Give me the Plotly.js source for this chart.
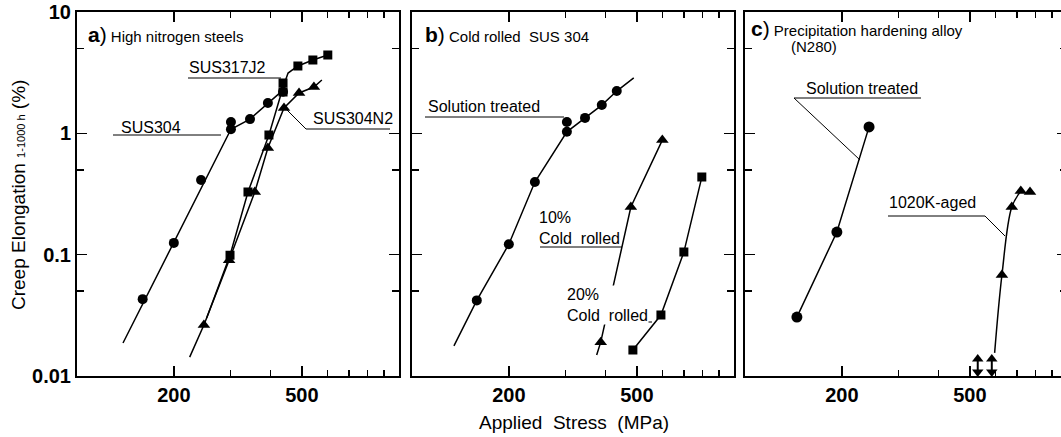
<!DOCTYPE html>
<html>
<head>
<meta charset="utf-8">
<script src="https://cdn.plot.ly/plotly-3.0.1.min.js"></script>
<style>
html,body{margin:0;padding:0;overflow:hidden;background:#fff;}
#chart{width:1068px;height:437px;}
</style>
</head>
<body>
<div id="chart"></div>
<script>
// ---------- Data (Applied stress in MPa, creep elongation in %) ----------
// Panel a) High nitrogen steels
const aStressSUS304 = [160, 200, 243, 301, 301, 345, 392, 437];
const aElongSUS304 = [0.043, 0.125, 0.412, 1.08, 1.24, 1.31, 1.78, 2.2];
const aFitStressSUS304 = [139, 301, 345, 392, 437];
const aFitElongSUS304 = [0.0187, 1.08, 1.31, 1.78, 2.27];

const aStressSUS317J2 = [299, 340, 395, 437, 437, 486, 541, 602];
const aElongSUS317J2 = [0.099, 0.328, 0.97, 2.19, 2.6, 3.59, 4.02, 4.42];
const aFitStressSUS317J2 = [253, 299, 340, 395, 437, 453, 486, 541, 602];
const aFitElongSUS317J2 = [0.03, 0.099, 0.328, 0.97, 2.4, 3.14, 3.59, 4.02, 4.42];

const aStressSUS304N2 = [248, 297, 357, 392, 440, 490, 545];
const aElongSUS304N2 = [0.0263, 0.090, 0.328, 0.757, 1.62, 2.15, 2.41];
const aFitStressSUS304N2 = [224, 248, 297, 357, 392, 440, 490, 545, 577];
const aFitElongSUS304N2 = [0.0143, 0.0263, 0.090, 0.328, 0.757, 1.62, 2.15, 2.41, 2.75];

// Panel b) Cold rolled SUS 304
const bStressSolution = [159, 200, 241, 303, 303, 345, 389, 433];
const bElongSolution = [0.042, 0.122, 0.397, 1.03, 1.24, 1.34, 1.71, 2.23];
const bFitStressSolution = [135, 159, 200, 241, 303, 345, 389, 433, 489];
const bFitElongSolution = [0.0177, 0.042, 0.122, 0.397, 1.03, 1.34, 1.71, 2.23, 2.86];

const bStressCR10 = [386, 479, 600];
const bElongCR10 = [0.019, 0.247, 0.88];
const bFitStressCR10 = [375, 386, 479, 600];
const bFitElongCR10 = [0.0149, 0.019, 0.247, 0.88];

const bStressCR20 = [486, 594, 700, 796];
const bElongCR20 = [0.0164, 0.0318, 0.105, 0.436];

// Panel c) Precipitation hardening alloy (N280)
const cStressSolution = [145, 193, 243];
const cElongSolution = [0.0306, 0.1536, 1.13];

const cStressAged = [629, 675, 720, 769];
const cElongAged = [0.068, 0.247, 0.334, 0.328];
const cFitStressAged = [597, 629, 675, 720];
const cFitElongAged = [0.0155, 0.068, 0.247, 0.334];

// Run-out (no measurable creep) markers, 1020K-aged
const cStressRunout = [529, 585];
const cRunoutUp = [0.0138, 0.0138];
const cRunoutMid = [0.0122, 0.0122];
const cRunoutDown = [0.0108, 0.0108];

// Tick labels
const xTickVals = [200, 500];
const xTickText = ['200', '500'];
const xMinorVals = [300, 400, 600, 700, 800, 900];
const yTickVals = [0.01, 0.1, 1, 10];
const yTickText = ['0.01', '0.1', '1', '10'];
const yMinorVals = [0.05, 0.5, 5];

// ---------- Layout helpers ----------
const W = 1068, H = 437;
const px = v => v / W;
const py = v => 1 - v / H;
const FONT = 'Liberation Sans, Arial, Helvetica, sans-serif';

function line(x, y, ax) {
  return {x: x, y: y, xaxis: 'x' + ax, yaxis: 'y' + ax, mode: 'lines',
          line: {color: '#000', width: 1.5}, hoverinfo: 'skip'};
}
function mk(x, y, ax, symbol, size) {
  return {x: x, y: y, xaxis: 'x' + ax, yaxis: 'y' + ax, mode: 'markers',
          marker: {color: '#000', symbol: symbol, size: size, line: {width: 0}}};
}

const traces = [
  line(aFitStressSUS304, aFitElongSUS304, ''),
  line(aFitStressSUS317J2, aFitElongSUS317J2, ''),
  line(aFitStressSUS304N2, aFitElongSUS304N2, ''),
  mk(aStressSUS304, aElongSUS304, '', 'circle', 10),
  mk(aStressSUS304N2, aElongSUS304N2, '', 'triangle-up', 11),
  mk(aStressSUS317J2, aElongSUS317J2, '', 'square', 9),

  line(bFitStressSolution, bFitElongSolution, '2'),
  line(bFitStressCR10, bFitElongCR10, '2'),
  line(bStressCR20, bElongCR20, '2'),
  mk(bStressSolution, bElongSolution, '2', 'circle', 10),
  mk(bStressCR10, bElongCR10, '2', 'triangle-up', 11),
  mk(bStressCR20, bElongCR20, '2', 'square', 9),

  line(cStressSolution, cElongSolution, '3'),
  Object.assign(line(cFitStressAged, cFitElongAged, '3'), {line: {color: '#000', width: 1.5, shape: 'spline'}}),
  mk(cStressSolution, cElongSolution, '3', 'circle', 11),
  mk(cStressAged, cElongAged, '3', 'triangle-up', 11),
  Object.assign(mk(cStressRunout, cRunoutMid, '3', 'line-ns', 12), {marker: {symbol: 'line-ns', size: 12, line: {color: '#000', width: 2}}, cliponaxis: false}),
  Object.assign(mk(cStressRunout, cRunoutUp, '3', 'triangle-up', 10), {cliponaxis: false}),
  Object.assign(mk(cStressRunout, cRunoutDown, '3', 'triangle-down', 10), {cliponaxis: false})
];

function xax(d0, d1, anchor) {
  return {type: 'log', range: [2, 3], domain: [px(d0), px(d1)], anchor: anchor,
          showline: true, linecolor: '#000', linewidth: 2, mirror: 'ticks',
          ticks: 'inside', ticklen: 10, tickwidth: 1.5, tickcolor: '#000',
          tickvals: xTickVals, ticktext: xTickText, showgrid: false, zeroline: false,
          tickfont: {family: FONT, size: 20, weight: 'bold', color: '#000'},
          minor: {tickvals: xMinorVals, ticks: 'inside', ticklen: 6, tickwidth: 1.5, tickcolor: '#000', showgrid: false},
          automargin: false, fixedrange: true};
}
function yax(anchor, labels) {
  return {type: 'log', range: [-2, 1], domain: [py(376), py(12)], anchor: anchor,
          showline: true, linecolor: '#000', linewidth: 2, mirror: 'ticks',
          ticks: 'inside', ticklen: 10, tickwidth: 1.5, tickcolor: '#000',
          tickvals: yTickVals, ticktext: yTickText, showticklabels: labels,
          showgrid: false, zeroline: false,
          tickfont: {family: FONT, size: 20, weight: 'bold', color: '#000'},
          minor: {tickvals: yMinorVals, ticks: 'inside', ticklen: 7, tickwidth: 1.5, tickcolor: '#000', showgrid: false},
          automargin: false, fixedrange: true};
}

function txt(text, x, y, size, extra) {
  return Object.assign({text: text, xref: 'paper', yref: 'paper', x: px(x), y: py(y),
    xanchor: 'left', yanchor: 'middle', showarrow: false, align: 'left',
    font: {family: FONT, size: size, color: '#000'}}, extra || {});
}
function seg(x0, y0, x1, y1) {
  return {type: 'line', xref: 'paper', yref: 'paper', x0: px(x0), y0: py(y0), x1: px(x1), y1: py(y1),
          line: {color: '#000', width: 1}};
}

const annotations = [
  txt("<span style='font-size:21px'><b>a</b>)</span> High nitrogen steels", 86, 35, 15),
  txt("<span style='font-size:21px'><b>b</b>)</span> Cold rolled&nbsp;&nbsp;SUS 304", 423, 35, 15),
  txt("<span style='font-size:21px'><b>c</b>)</span> Precipitation hardening alloy", 749, 28, 15),
  txt("(N280)", 789, 46, 15),

  txt("SUS317J2", 187, 68, 16),
  txt("SUS304", 119, 127, 16),
  txt("SUS304N2", 311, 118, 16),

  txt("Solution treated", 426, 106, 16),
  txt("10%<br>Cold&nbsp;&nbsp;rolled", 537, 228, 16),
  txt("20%<br>Cold&nbsp;&nbsp;rolled", 566, 305, 16, {bgcolor: '#fff', borderpad: 0}),

  txt("Solution treated", 804, 88, 16),
  txt("1020K-aged", 887, 203, 16),

  txt("Applied&nbsp;&nbsp;Stress&nbsp;&nbsp;(MPa)", 574, 422, 19, {xanchor: 'center'}),
  txt("Creep Elongation <span style='font-size:11px'>1-1000 h</span> (%)", 18, 195, 19, {xanchor: 'center', textangle: -90})
];

const shapes = [
  seg(188, 78, 281, 78),
  seg(113, 135, 221, 135),
  seg(284, 107, 306, 129), seg(306, 129, 390, 129),
  seg(425, 117, 564, 117),
  seg(540, 247, 622, 247),
  seg(572, 322, 652, 322),
  seg(794, 98, 921, 98), seg(794, 98, 860, 160),
  seg(888, 216, 985, 216), seg(985, 216, 1005, 236)
];

const layout = {
  width: W, height: H, margin: {l: 0, r: 0, t: 0, b: 0},
  paper_bgcolor: '#fff', plot_bgcolor: '#fff', showlegend: false,
  font: {family: FONT, color: '#000'},
  xaxis: xax(77, 398.7, 'y'), yaxis: yax('x', true),
  xaxis2: xax(412, 733.7, 'y2'), yaxis2: yax('x2', false),
  xaxis3: xax(745, 1066.7, 'y3'), yaxis3: yax('x3', false),
  annotations: annotations, shapes: shapes
};

Plotly.newPlot('chart', traces, layout, {staticPlot: true, displayModeBar: false});
</script>
</body>
</html>
